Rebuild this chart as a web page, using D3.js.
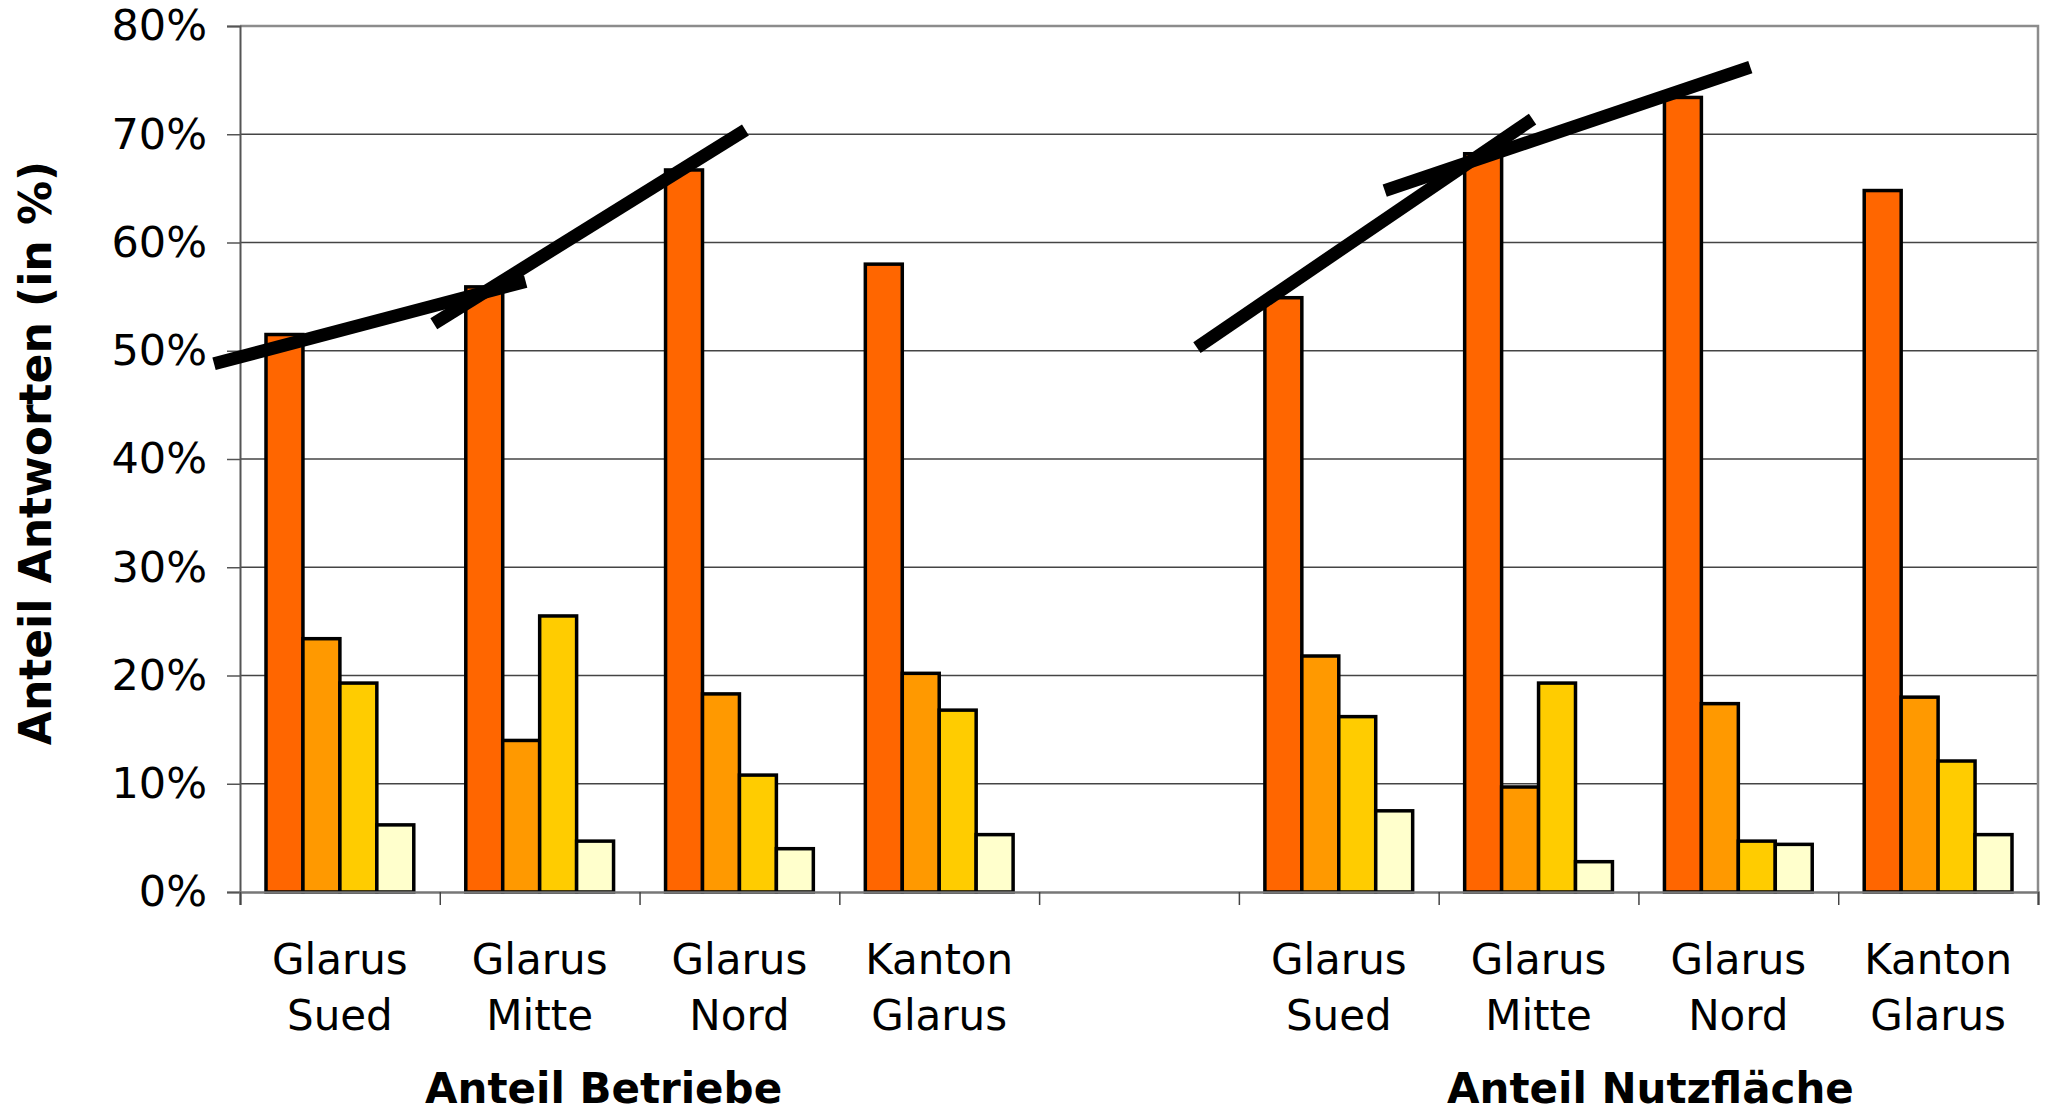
<!DOCTYPE html>
<html>
<head>
<meta charset="utf-8">
<script src="https://cdn.jsdelivr.net/npm/d3@7"></script>
<style>
  body { margin: 0; background: #fff; }
  svg text { font-family: "DejaVu Sans", Verdana, sans-serif; fill: #000; }
</style>
</head>
<body>
<div id="chart"></div>
<script>
// categories (the empty one is the gap between the two groups)
const categories = ['Glarus\nSued', 'Glarus\nMitte', 'Glarus\nNord', 'Kanton\nGlarus', '',
                    'Glarus\nSued', 'Glarus\nMitte', 'Glarus\nNord', 'Kanton\nGlarus'];
const groups = ['Anteil Betriebe', 'Anteil Nutzfläche'];
const groupPos = [1.82, 7.06];   // in category units

// four answer classes, values in %
const series1 = [51.5, 55.9, 66.7, 58.0, null, 54.9, 68.2, 73.4, 64.8];
const series2 = [23.4, 14.0, 18.3, 20.2, null, 21.8, 9.7, 17.4, 18.0];
const series3 = [19.3, 25.5, 10.8, 16.8, null, 16.2, 19.3, 4.7, 12.1];
const series4 = [6.2, 4.7, 4.0, 5.3, null, 7.5, 2.8, 4.4, 5.3];
const seriesColors = ['#ff6600', '#ff9900', '#ffcc00', '#ffffcc'];

const yTicks = [0, 10, 20, 30, 40, 50, 60, 70, 80];

// hand drawn trend strokes: [category position, value]
const strokes = [
    [[-0.13, 48.8], [1.43, 56.4]],
    [[0.97, 52.5], [2.53, 70.4]],
    [[4.79, 50.3], [6.47, 71.4]],
    [[5.73, 64.8], [7.56, 76.2]]
];

var svgwidth = 2058;
var svgheight = 1113;
var plotLeft = 240, plotRight = 2038, plotTop = 26, plotBottom = 892;

var svg = d3.select('#chart')
    .append('svg')
    .attr('width', svgwidth)
    .attr('height', svgheight);

var xscale = d3.scaleBand()
    .domain(d3.range(categories.length))
    .range([plotLeft, plotRight])
    .padding(0);

var xcat = d3.scaleLinear()
    .domain([0, categories.length])
    .range([plotLeft, plotRight]);

var keys = [0, 1, 2, 3];
var gap = 26;
var xinner = d3.scaleBand()
    .domain(keys)
    .range([gap, xscale.bandwidth() - gap])
    .padding(0);

var yscale = d3.scaleLinear()
    .domain([0, 80])
    .range([plotBottom, plotTop]);

// gridlines
svg.append('g')
    .selectAll('line')
    .data(yTicks.slice(1, -1))
    .join('line')
    .attr('x1', plotLeft)
    .attr('x2', plotRight)
    .attr('y1', d => yscale(d))
    .attr('y2', d => yscale(d))
    .attr('stroke', '#444')
    .attr('stroke-width', 1.5);

// plot border (top and right in light gray)
svg.append('path')
    .attr('d', `M${plotLeft},${plotTop}H${plotRight}V${plotBottom}`)
    .attr('fill', 'none')
    .attr('stroke', '#8c8c8c')
    .attr('stroke-width', 2.5);

// y axis
var yaxis = d3.axisLeft(yscale)
    .tickValues(yTicks)
    .tickFormat(d => d + '%')
    .tickSize(13)
    .tickPadding(20);

var gy = svg.append('g')
    .attr('transform', `translate(${plotLeft},0)`)
    .call(yaxis);
gy.select('.domain').attr('stroke', '#555').attr('stroke-width', 2);
gy.selectAll('.tick line').attr('stroke', '#555').attr('stroke-width', 1.5);
gy.selectAll('text')
    .style('font-family', '"DejaVu Sans", Verdana, sans-serif')
    .style('font-size', '43px')
    .attr('fill', '#000');

// bars
var data = [series1, series2, series3, series4];
var gbars = svg.append('g');
data.forEach((vals, k) => {
    gbars.append('g')
        .selectAll('rect')
        .data(vals.map((v, i) => ({ i: i, v: v })).filter(d => d.v != null))
        .join('rect')
        .attr('x', d => xscale(d.i) + xinner(k))
        .attr('y', d => yscale(d.v))
        .attr('width', xinner.bandwidth())
        .attr('height', d => yscale(0) - yscale(d.v))
        .attr('fill', seriesColors[k])
        .attr('stroke', '#000')
        .attr('stroke-width', 3.5);
});

// x axis
var xaxis = d3.axisBottom(xcat)
    .tickValues(d3.range(categories.length + 1))
    .tickFormat('')
    .tickSize(13);
var gx = svg.append('g')
    .attr('transform', `translate(0,${plotBottom})`)
    .call(xaxis);
gx.select('.domain').attr('stroke', '#777').attr('stroke-width', 2.5);
gx.selectAll('.tick line').attr('stroke', '#444').attr('stroke-width', 1.5);

// category labels
var labels = svg.append('g')
    .selectAll('text')
    .data(categories)
    .join('text')
    .attr('text-anchor', 'middle')
    .style('font-size', '42px');
labels.each(function (d, i) {
    var lines = d.split('\n');
    var t = d3.select(this);
    lines.forEach((ln, j) => {
        if (!ln) return;
        t.append('tspan')
            .attr('x', xscale(i) + xscale.bandwidth() / 2)
            .attr('y', 974 + j * 56)
            .text(ln);
    });
});

// group labels
svg.append('g')
    .selectAll('text')
    .data(groups)
    .join('text')
    .attr('x', (d, i) => xcat(groupPos[i]))
    .attr('y', 1103)
    .attr('text-anchor', 'middle')
    .style('font-size', '42px')
    .style('font-weight', 'bold')
    .text(d => d);

// trend strokes
svg.append('g')
    .selectAll('line')
    .data(strokes)
    .join('line')
    .attr('x1', d => xcat(d[0][0]))
    .attr('y1', d => yscale(d[0][1]))
    .attr('x2', d => xcat(d[1][0]))
    .attr('y2', d => yscale(d[1][1]))
    .attr('stroke', '#000')
    .attr('stroke-width', 13)
    .attr('stroke-linecap', 'butt');

// Title on the Y-axis
svg.append('text')
    .attr('transform', 'rotate(-90)')
    .attr('x', -453)
    .attr('y', 51)
    .attr('text-anchor', 'middle')
    .style('font-size', '44px')
    .style('font-weight', 'bold')
    .text('Anteil Antworten (in %)');
</script>
</body>
</html>
